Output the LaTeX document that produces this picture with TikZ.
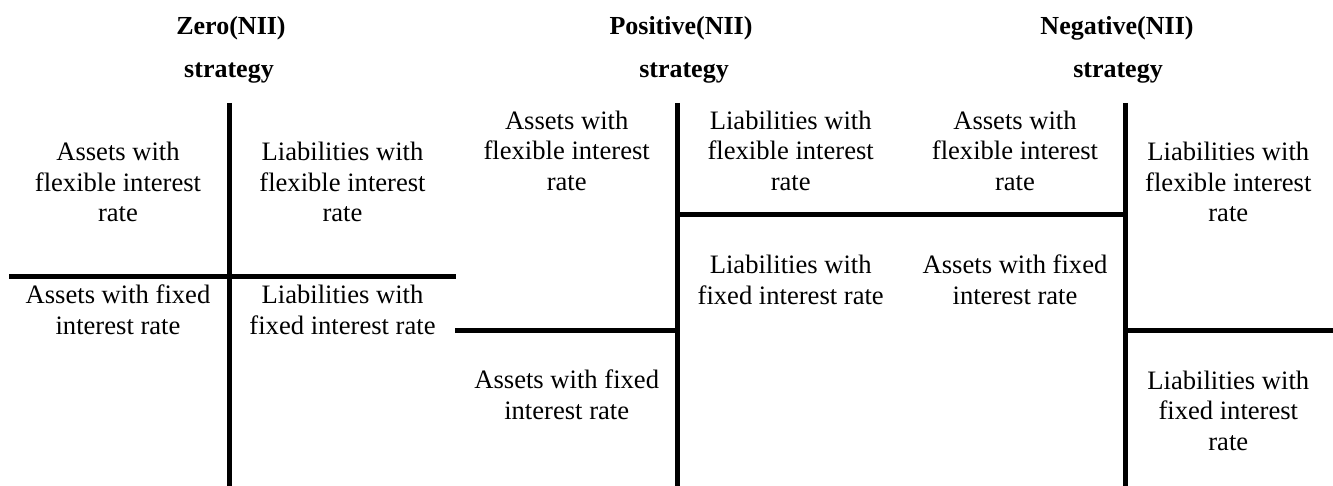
\documentclass[tikz,border=0pt]{standalone}
\usepackage{fontspec}
\setmainfont{Liberation Serif}
\begin{document}
\begin{tikzpicture}[x=1pt,y=-1pt,
  divider/.style={line width=5pt},
  cell/.style={align=center,inner sep=0pt,font=\fontsize{26.6}{30.5}\selectfont},
  heading/.style={anchor=base,inner sep=0pt,font=\fontsize{26}{30.5}\selectfont\bfseries}]
\useasboundingbox (0,0) rectangle (1333,486);

% strategy headings
\node[heading] (h1a) at (231,35) {Zero(NII)};
\node[heading] (h1b) at (229,78) {strategy};
\node[heading] (h2a) at (681,35) {Positive(NII)};
\node[heading] (h2b) at (684,78) {strategy};
\node[heading] (h3a) at (1117,35) {Negative(NII)};
\node[heading] (h3b) at (1118,78) {strategy};

% divider end points
\coordinate (v1t) at (229,103);  \coordinate (v1b) at (229,486);
\coordinate (h1l) at (9,277);    \coordinate (h1r) at (456,277);
\coordinate (h2l) at (455,330);  \coordinate (h2r) at (677,330);
\coordinate (v2t) at (677,103);  \coordinate (v2b) at (677,486);
\coordinate (h3l) at (677,215);  \coordinate (h3r) at (1125,215);
\coordinate (v3t) at (1125,103); \coordinate (v3b) at (1125,486);
\coordinate (h4l) at (1125,330); \coordinate (h4r) at (1333,330);

\draw[divider] (v1t) -- (v1b);
\draw[divider] (h1l) -- (h1r);
\draw[divider] (h2l) -- (h2r);
\draw[divider] (v2t) -- (v2b);
\draw[divider] (h3l) -- (h3r);
\draw[divider] (v3t) -- (v3b);
\draw[divider] (h4l) -- (h4r);

% zero NII gap
\node[cell] (za) at (118,182) {Assets with\\flexible interest\\rate};
\node[cell] (zl) at (342.5,182) {Liabilities with\\flexible interest\\rate};
\node[cell] (zaf) at (118,310) {Assets with fixed\\interest rate};
\node[cell] (zlf) at (342.5,310) {Liabilities with\\fixed interest rate};

% positive NII gap
\node[cell] (pa) at (566.7,150.5) {Assets with\\flexible interest\\rate};
\node[cell] (pl) at (790.7,150.5) {Liabilities with\\flexible interest\\rate};
\node[cell] (plf) at (790.7,280) {Liabilities with\\fixed interest rate};
\node[cell] (paf) at (566.7,395) {Assets with fixed\\interest rate};

% negative NII gap
\node[cell] (na) at (1015,150.5) {Assets with\\flexible interest\\rate};
\node[cell] (naf) at (1015,280) {Assets with fixed\\interest rate};
\node[cell] (nl) at (1228.3,182) {Liabilities with\\flexible interest\\rate};
\node[cell] (nlf) at (1228.3,410.5) {Liabilities with\\fixed interest\\rate};
\end{tikzpicture}
\end{document}
